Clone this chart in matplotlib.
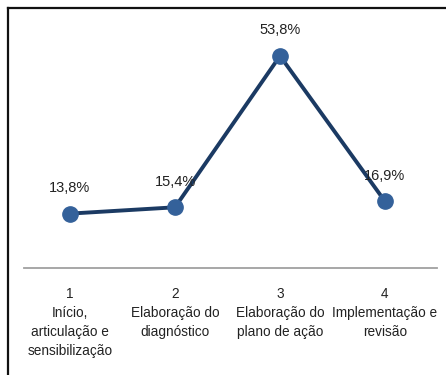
import matplotlib.pyplot as plt
from matplotlib.lines import Line2D

# etapas do processo e percentual de respostas
etapas = [
    "1\nInício,\narticulação e\nsensibilização",
    "2\nElaboração do\ndiagnóstico",
    "3\nElaboração do\nplano de ação",
    "4\nImplementação e\nrevisão",
]
percentuais = [13.8, 15.4, 53.8, 16.9]

plt.rcParams['font.family'] = ['Liberation Sans', 'DejaVu Sans']

fig = plt.figure(figsize=(4.46, 3.75), dpi=100)
ax = fig.add_axes([23.8 / 446, 1 - 268 / 375, 413.7 / 446, (268 - 31.5) / 375])

x = list(range(len(etapas)))
ax.plot(x, percentuais, color='#1b3a63', linewidth=2.8, zorder=2)
ax.plot(x, percentuais, 'o', color='#34619a', markersize=11, zorder=3)

for xi, v in zip(x, percentuais):
    rotulo = f"{v:.1f}%".replace('.', ',')
    ax.annotate(rotulo, (xi, v), xytext=(0, 18.5), textcoords='offset points',
                ha='center', va='center', fontsize=10.5, color='#222222')

ax.set_xlim(-0.44, 3.5)
ax.set_ylim(0, 60)
ax.set_xticks(x)
ax.set_xticklabels(etapas, fontsize=9.8, linespacing=1.45, color='#222222')
ax.set_yticks([])
ax.tick_params(axis='x', length=0, pad=14)

for lado in ['top', 'right', 'left']:
    ax.spines[lado].set_visible(False)
ax.spines['bottom'].set_color('#a0a0a0')
ax.spines['bottom'].set_linewidth(1.3)

# moldura à esquerda e no topo
fig.add_artist(Line2D([8 / 446, 8 / 446], [0, 1 - 8 / 375], color='#111111', linewidth=1.6))
fig.add_artist(Line2D([8 / 446, 1], [1 - 8 / 375, 1 - 8 / 375], color='#111111', linewidth=1.6))

fig.savefig('out.png', dpi=100)
